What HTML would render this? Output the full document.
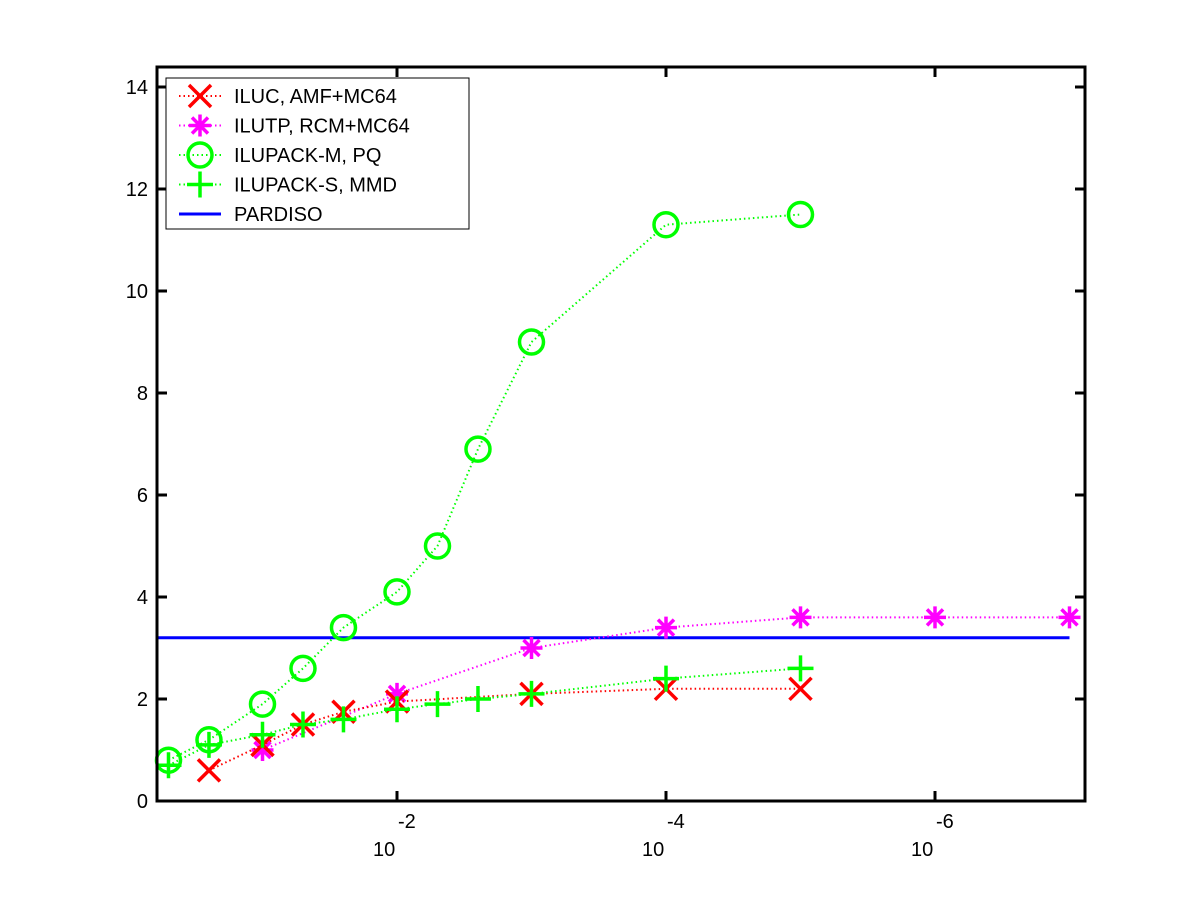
<!DOCTYPE html>
<html><head><meta charset="utf-8"><style>
body{margin:0;background:#fff;}
svg text{font-family:"Liberation Sans",sans-serif;fill:#000;}
</style></head><body>
<svg width="1200" height="900" viewBox="0 0 1200 900" xmlns="http://www.w3.org/2000/svg">
<rect width="1200" height="900" fill="#fff"/>
<g id="plot"></g>
<script>
const tau = [0.5,0.25,0.1,0.05,0.025,0.01,0.005,0.0025,0.001,1e-4,1e-5,1e-6,1e-7];
const iluc = [null,0.6,1.1,1.5,1.75,1.95,null,null,2.1,2.2,2.2,null,null];
const ilutp = [null,null,1.0,null,null,2.1,null,null,3.0,3.4,3.6,3.6,3.6];
const ilupackM = [0.8,1.2,1.9,2.6,3.4,4.1,5.0,6.9,9.0,11.3,11.5,null,null];
const ilupackS = [0.7,1.1,1.3,1.5,1.6,1.8,1.9,2.0,2.1,2.4,2.6,null,null];
const pardiso = 3.2;
const yTicks = [0,2,4,6,8,10,12,14];
const xTickExp = [-2,-4,-6];

const NS="http://www.w3.org/2000/svg";
const g=document.getElementById('plot');
const L=157,R=1085,T=67,B=801;
function xs(v){return 397-(Math.log10(v)+2)*134.5;}
function ys(v){return 801-v*51;}
function mk(tag,attrs,parent){const e=document.createElementNS(NS,tag);for(const k in attrs)e.setAttribute(k,attrs[k]);(parent||g).appendChild(e);return e;}

// pardiso line
const pl=mk('line',{x1:L,x2:xs(1e-7),y1:ys(pardiso),y2:ys(pardiso),stroke:'#0000ff','stroke-width':3});



function marker(type,x,y,c,parent){
  const s=11;
  if(type==='x'){mk('path',{d:`M${x-s},${y-s}L${x+s},${y+s}M${x-s},${y+s}L${x+s},${y-s}`,stroke:c,'stroke-width':3.5,fill:'none'},parent);}
  else if(type==='*'){mk('path',{d:`M${x-s},${y}L${x+s},${y}M${x},${y-s}L${x},${y+s}M${x-8},${y-8}L${x+8},${y+8}M${x-8},${y+8}L${x+8},${y-8}`,stroke:c,'stroke-width':3.5,fill:'none'},parent);}
  else if(type==='o'){mk('circle',{cx:x,cy:y,r:12,stroke:c,'stroke-width':3.5,fill:'none'},parent);}
  else {mk('path',{d:`M${x-s-2},${y}L${x+s+2},${y}M${x},${y-s-2}L${x},${y+s+2}`,stroke:c,'stroke-width':3.5,fill:'none'},parent);}
}
function series(name,vals,c,type){
  const sg=mk('g',{});
  
  
  const pts=[];
  vals.forEach((v,i)=>{if(v!==null)pts.push([xs(tau[i]),ys(v)]);});
  const pth=mk('polyline',{points:pts.map(p=>p.join(',')).join(' '),fill:'none',stroke:c,'stroke-width':2,'stroke-dasharray':'1.5,3'},sg);
  
  
  pts.forEach(p=>marker(type,p[0],p[1],c,sg));
}
series('ilupack-m-series',ilupackM,'#00ff00','o');
series('ilutp-series',ilutp,'#ff00ff','*');
series('iluc-series',iluc,'#ff0000','x');
series('ilupack-s-series',ilupackS,'#00ff00','+');

// axes box
const box=mk('rect',{x:L,y:T,width:R-L,height:B-T,fill:'none',stroke:'#000','stroke-width':3});


yTicks.forEach(v=>{
  const y=ys(v);
  mk('line',{x1:L,x2:L+10,y1:y,y2:y,stroke:'#000','stroke-width':3});
  mk('line',{x1:R-10,x2:R,y1:y,y2:y,stroke:'#000','stroke-width':3});
  const t=mk('text',{x:148,y:y+7,'text-anchor':'end','font-size':20});
  t.textContent=v;
  
  
});
xTickExp.forEach(e=>{
  const x=xs(Math.pow(10,e));
  mk('line',{x1:x,x2:x,y1:B-10,y2:B,stroke:'#000','stroke-width':3});
  mk('line',{x1:x,x2:x,y1:T,y2:T+10,stroke:'#000','stroke-width':3});
  const t=mk('text',{x:x-24,y:856,'font-size':20});
  t.textContent='10';
  
  
  const t2=mk('text',{x:x+1,y:828,'font-size':20});
  t2.textContent=String(e);
  
  
});

// legend
const lg=mk('g',{});


mk('rect',{x:166,y:78,width:303,height:151,fill:'#fff',stroke:'#000','stroke-width':1},lg);
const entries=[['ILUC, AMF+MC64','#ff0000','x'],['ILUTP, RCM+MC64','#ff00ff','*'],['ILUPACK-M, PQ','#00ff00','o'],['ILUPACK-S, MMD','#00ff00','+'],['PARDISO','#0000ff','-']];
entries.forEach((en,i)=>{
  const y=96+i*29.5;
  const eg=mk('g',{},lg);
  
  
  if(en[2]==='-'){mk('line',{x1:179,x2:221,y1:y,y2:y,stroke:en[1],'stroke-width':3},eg);}
  else{mk('line',{x1:179,x2:221,y1:y,y2:y,stroke:en[1],'stroke-width':2,'stroke-dasharray':'1.5,3'},eg);marker(en[2],200,y,en[1],eg);}
  const t=mk('text',{x:234,y:y+7,'font-size':20},eg);
  t.textContent=en[0];
});
</script>
</svg>
</body></html>
